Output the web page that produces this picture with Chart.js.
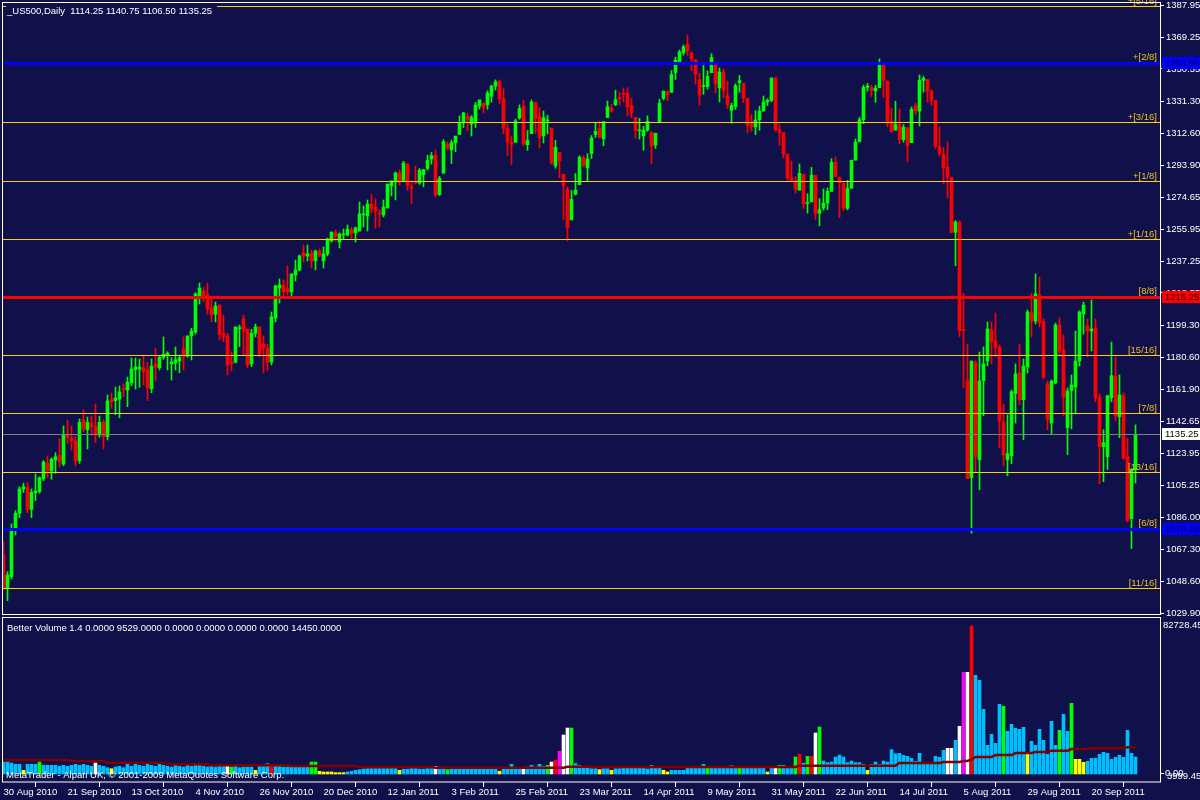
<!DOCTYPE html>
<html><head><meta charset="utf-8">
<script src="https://cdn.jsdelivr.net/npm/chart.js@4.4.1/dist/chart.umd.min.js"></script>
<style>
html,body{margin:0;padding:0;background:#10104a;width:1200px;height:800px;overflow:hidden;}
#wrap{position:relative;width:1200px;height:800px;}
canvas{position:absolute;left:0;}
#c1{top:0;} #c2{top:616px;}
</style></head><body>
<div id="wrap"><canvas id="c1" width="1200" height="617"></canvas><canvas id="c2" width="1200" height="184"></canvas></div>
<script>
const opens = [1064.1,1044.5,1051.3,1079.8,1088.7,1103.0,1104.0,1091.0,1100.8,1101.4,1109.1,1118.1,1113.6,1120.1,1122.9,1117.7,1135.2,1132.9,1131.3,1119.7,
1143.7,1137.9,1141.7,1140.1,1134.8,1142.3,1133.8,1155.6,1155.0,1156.0,1161.9,1161.3,1165.5,1173.3,1173.7,1174.3,1173.1,1162.1,1176.7,1174.5,
1180.6,1181.8,1176.7,1177.2,1178.4,1185.5,1181.4,1193.2,1195.5,1216.7,1219.5,1217.5,1209.8,1206.1,1211.4,1194.7,1193.2,1178.0,1177.8,1197.5,
1203.2,1197.3,1176.7,1194.7,1198.5,1188.4,1186.1,1177.8,1203.8,1221.4,1223.2,1220.9,1219.1,1229.1,1232.1,1242.1,1240.3,1242.1,1237.4,1243.2,
1237.4,1241.5,1249.1,1253.9,1248.6,1252.7,1252.7,1255.6,1253.9,1255.0,1264.5,1263.9,1270.9,1269.2,1265.6,1264.5,1268.6,1281.6,1283.9,1289.2,
1285.0,1294.5,1280.9,1283.6,1283.3,1288.2,1292.0,1297.5,1299.6,1276.5,1289.1,1306.1,1302.8,1307.0,1311.9,1318.8,1322.5,1318.1,1318.7,1328.7,
1330.4,1329.5,1334.4,1340.4,1343.0,1333.0,1315.4,1307.1,1307.3,1321.6,1328.6,1305.9,1312.4,1330.7,1322.7,1311.1,1319.9,1315.7,1293.4,1301.2,
1288.5,1279.5,1261.6,1276.7,1282.3,1298.3,1292.2,1300.6,1311.8,1315.5,1309.4,1321.9,1327.4,1329.5,1333.6,1335.9,1336.2,1329.0,1322.0,1314.0,
1311.1,1314.5,1313.4,1305.7,1319.1,1333.2,1337.1,1336.8,1348.4,1353.9,1360.1,1365.2,1359.8,1355.9,1344.2,1340.2,1340.2,1348.3,1354.5,1339.4,
1348.7,1334.8,1326.1,1328.5,1342.4,1342.0,1333.1,1317.7,1316.4,1320.6,1325.7,1331.1,1332.0,1345.2,1314.6,1312.9,1300.3,1286.3,1284.6,1279.1,
1288.3,1271.3,1272.2,1287.9,1265.5,1268.6,1271.5,1278.4,1295.5,1286.6,1283.0,1268.4,1280.2,1296.8,1307.6,1320.6,1339.7,1339.6,1337.6,1339.6,
1352.4,1343.3,1319.6,1314.5,1317.7,1308.9,1315.9,1307.1,1328.7,1325.7,1343.8,1344.3,1337.4,1331.9,1304.8,1300.1,1292.6,1286.6,1254.3,1260.2,
1197.0,1167.2,1109.7,1177.8,1120.2,1166.8,1178.4,1196.7,1190.2,1186.7,1142.5,1120.2,1122.6,1159.2,1171.4,1155.6,1174.9,1206.7,1202.0,1217.3,
1201.4,1164.9,1141.9,1165.5,1199.6,1184.9,1139.1,1160.9,1163.1,1178.4,1206.1,1199.0,1196.1,1197.9,1156.8,1127.9,1122.0,1156.8,1169.6,1145.6,
1157.8,1122.4,1085.5,1114.25];
const highs = [1071.9,1054.3,1082.4,1090.2,1104.3,1106.4,1106.9,1103.0,1111.8,1110.2,1119.7,1122.4,1121.4,1124.4,1132.5,1140.1,1143.7,1140.1,1134.2,1144.2,
1149.6,1145.4,1146.0,1153.1,1146.0,1143.7,1158.4,1159.6,1163.1,1163.7,1164.9,1169.0,1180.2,1180.2,1179.6,1182.0,1177.7,1179.6,1185.9,1181.4,
1192.6,1183.9,1180.4,1186.7,1182.0,1192.6,1193.2,1197.7,1218.7,1224.4,1221.9,1224.4,1215.0,1213.2,1211.4,1205.5,1194.7,1183.9,1198.5,1199.6,
1205.5,1197.3,1197.1,1200.2,1198.5,1193.2,1188.4,1207.3,1223.2,1226.8,1226.2,1234.4,1229.7,1237.9,1240.9,1246.8,1246.8,1243.8,1243.8,1244.4,
1245.6,1250.9,1254.4,1255.6,1253.9,1256.2,1258.6,1257.4,1257.4,1272.1,1269.8,1273.3,1276.8,1273.9,1267.4,1273.3,1282.7,1284.5,1289.8,1291.0,
1296.1,1294.6,1283.4,1293.3,1291.9,1291.3,1299.7,1301.3,1302.7,1287.2,1308.9,1307.6,1308.6,1311.0,1322.9,1324.9,1324.5,1323.0,1330.8,1332.1,
1330.4,1337.6,1341.0,1344.1,1344.0,1338.9,1317.9,1310.9,1320.9,1329.4,1332.1,1314.2,1332.3,1331.1,1327.7,1325.7,1323.2,1315.7,1308.4,1301.2,
1288.5,1280.9,1278.9,1288.9,1299.4,1299.4,1300.6,1311.3,1319.2,1319.7,1319.5,1331.7,1329.8,1337.9,1336.7,1339.4,1339.5,1333.2,1322.0,1321.4,
1316.8,1322.9,1313.4,1312.7,1332.7,1337.5,1337.6,1349.6,1357.5,1361.7,1364.6,1370.6,1360.8,1355.9,1348.0,1354.4,1349.4,1359.4,1354.5,1351.1,
1350.5,1343.3,1330.4,1341.8,1346.8,1342.0,1333.1,1323.7,1325.9,1328.5,1334.6,1333.0,1345.2,1345.2,1318.0,1312.9,1300.3,1296.2,1287.0,1294.5,
1288.3,1277.0,1292.5,1287.9,1274.1,1279.8,1280.4,1297.6,1298.6,1286.8,1283.9,1284.9,1296.8,1309.2,1322.0,1341.0,1342.0,1340.9,1340.9,1356.5,
1352.4,1343.3,1327.2,1331.5,1326.9,1317.7,1315.9,1328.1,1330.4,1347.0,1346.1,1344.3,1338.5,1331.9,1316.3,1304.3,1307.4,1286.6,1261.2,1261.0,
1218.3,1188.4,1178.4,1178.6,1183.7,1186.7,1201.4,1201.4,1206.7,1187.9,1153.1,1146.6,1161.3,1176.7,1188.4,1179.6,1208.5,1218.5,1229.7,1227.9,
1203.2,1166.6,1167.2,1200.8,1203.8,1193.8,1162.5,1170.2,1196.1,1207.9,1213.2,1203.2,1214.4,1203.2,1159.0,1137.9,1158.0,1189.6,1180.8,1170.2,
1159.6,1133.0,1114.8,1140.75];
const lows = [1043.8,1037.2,1050.0,1075.9,1086.1,1101.0,1089.0,1086.1,1096.1,1100.5,1107.9,1109.7,1108.7,1112.2,1116.1,1116.7,1129.9,1126.0,1116.7,1118.1,
1136.6,1126.6,1134.8,1130.3,1133.5,1126.6,1131.9,1150.6,1146.8,1145.0,1157.2,1151.5,1163.9,1161.9,1162.9,1164.3,1155.0,1159.7,1166.6,1173.1,
1179.4,1173.1,1167.2,1173.1,1171.5,1173.1,1180.6,1179.0,1194.3,1212.0,1213.4,1206.1,1201.6,1201.4,1190.8,1189.8,1170.2,1172.7,1177.2,1186.9,
1182.0,1174.5,1175.1,1192.6,1181.0,1171.5,1172.7,1176.1,1201.4,1212.6,1216.7,1217.3,1216.7,1225.6,1231.5,1236.8,1237.4,1233.2,1232.1,1239.7,
1233.2,1240.3,1248.5,1249.1,1245.0,1250.3,1252.1,1250.9,1248.5,1255.0,1257.4,1255.0,1265.6,1256.8,1257.4,1263.3,1268.6,1275.7,1273.3,1282.1,
1284.0,1278.9,1271.3,1282.8,1282.5,1281.1,1291.0,1294.4,1275.1,1276.0,1289.1,1302.6,1294.8,1301.7,1311.9,1316.0,1314.2,1311.0,1316.1,1326.9,
1324.6,1326.8,1331.0,1338.1,1330.0,1312.3,1299.6,1294.3,1307.3,1320.9,1305.4,1302.6,1312.4,1312.6,1303.9,1306.9,1312.3,1294.2,1292.0,1286.4,
1261.9,1249.1,1261.6,1276.2,1282.3,1292.7,1284.6,1297.7,1310.2,1310.2,1305.3,1321.9,1325.0,1328.9,1329.1,1331.1,1322.9,1321.8,1309.6,1309.2,
1302.6,1313.7,1294.7,1303.7,1319.1,1332.3,1331.7,1336.7,1344.3,1353.6,1358.7,1358.6,1349.5,1341.5,1329.2,1335.6,1338.6,1348.3,1336.4,1331.1,
1333.4,1327.3,1318.5,1326.6,1336.8,1330.7,1312.9,1313.9,1311.8,1314.4,1325.7,1329.0,1331.1,1313.7,1305.6,1297.9,1284.9,1284.7,1277.4,1279.1,
1268.3,1265.6,1272.2,1261.9,1258.1,1267.4,1267.6,1278.4,1286.8,1262.9,1267.2,1267.5,1280.2,1296.8,1307.6,1318.3,1337.5,1334.3,1330.9,1339.6,
1333.7,1316.4,1313.3,1314.5,1306.5,1307.4,1295.9,1307.1,1323.7,1316.9,1336.9,1331.1,1329.1,1303.6,1299.2,1282.9,1274.7,1254.0,1234.6,1192.7,
1162.9,1109.1,1076.9,1113.1,1102.6,1146.1,1175.5,1176.7,1181.0,1127.3,1116.7,1110.8,1117.9,1141.9,1152.7,1132.0,1171.4,1192.6,1200.2,1198.5,
1167.8,1137.9,1135.6,1164.9,1181.4,1146.1,1123.2,1138.5,1147.2,1175.5,1194.3,1180.9,1184.3,1154.4,1106.1,1107.3,1114.4,1154.4,1143.2,1133.2,
1120.5,1083.7,1067.8,1106.5];
const closes = [1044.5,1052.3,1078.4,1088.7,1103.0,1104.3,1091.0,1101.0,1101.8,1109.5,1118.9,1113.8,1120.5,1122.0,1119.1,1135.2,1133.2,1131.3,1119.7,1142.3,
1138.5,1142.3,1139.7,1135.4,1142.3,1133.8,1154.9,1154.4,1156.6,1160.2,1161.5,1165.9,1173.7,1174.9,1174.9,1172.1,1162.7,1175.3,1174.9,1180.6,
1182.4,1183.1,1177.8,1179.2,1180.4,1181.0,1193.2,1196.1,1217.9,1221.4,1217.1,1209.1,1205.5,1210.8,1193.9,1192.7,1176.1,1176.8,1198.5,1197.9,
1196.1,1176.1,1194.9,1198.5,1182.7,1186.1,1177.8,1204.4,1222.6,1223.2,1219.1,1219.1,1229.7,1232.1,1240.3,1240.3,1241.5,1237.4,1243.2,1240.9,
1241.5,1250.3,1254.4,1252.1,1253.3,1253.3,1256.2,1253.9,1256.8,1265.1,1265.1,1270.9,1268.0,1266.8,1265.1,1269.2,1282.7,1284.5,1289.2,1284.5,
1295.0,1281.9,1280.3,1283.4,1290.8,1291.2,1296.6,1299.5,1276.3,1286.1,1307.6,1304.0,1307.1,1310.9,1319.1,1324.6,1320.9,1321.9,1329.2,1332.3,
1328.0,1336.3,1340.4,1343.0,1333.0,1315.4,1307.4,1306.1,1319.9,1327.2,1306.3,1308.4,1331.0,1321.2,1310.1,1321.8,1320.0,1295.1,1304.3,1296.4,
1281.9,1256.9,1273.7,1279.2,1298.4,1293.8,1297.5,1309.7,1313.8,1310.2,1319.4,1328.3,1325.8,1332.4,1332.9,1335.5,1328.2,1324.5,1314.2,1314.4,
1314.5,1319.7,1305.1,1312.6,1330.4,1337.4,1335.3,1347.2,1355.7,1360.5,1363.6,1361.2,1356.6,1347.3,1335.1,1340.2,1346.3,1357.2,1342.1,1348.7,
1337.8,1329.5,1329.0,1340.7,1343.6,1333.3,1317.4,1316.3,1320.5,1325.7,1331.1,1332.0,1345.2,1314.6,1312.9,1300.2,1286.2,1284.9,1279.6,1289.0,
1271.0,1271.8,1287.9,1265.4,1267.6,1271.5,1278.4,1295.5,1287.1,1283.5,1268.5,1280.1,1296.7,1307.4,1320.6,1339.7,1340.5,1337.9,1339.2,1353.2,
1343.8,1319.5,1313.6,1317.7,1308.9,1316.1,1305.4,1326.7,1325.8,1343.8,1345.0,1337.4,1331.9,1304.9,1300.7,1292.3,1286.9,1254.1,1260.3,1196.3,
1196.3,1109.1,1178.4,1122.0,1166.6,1176.7,1197.3,1189.8,1186.3,1143.1,1123.0,1123.8,1160.3,1170.8,1155.6,1175.5,1207.3,1202.0,1217.9,1201.0,
1169.0,1144.2,1166.6,1199.6,1184.3,1157.4,1160.7,1164.3,1178.4,1207.3,1211.4,1196.1,1197.3,1156.8,1127.9,1130.3,1158.0,1169.8,1146.1,1158.4,
1121.1,1084.3,1114.8,1135.25];
const volumes = [6700,6700,6150,5400,5400,2070,5400,5400,5400,6700,4860,4860,4860,4860,4300,4860,4300,4860,5400,4860,
5400,4860,4300,6150,4860,4300,3520,2960,3900,4300,3520,5400,4300,5400,4860,4300,5400,4860,4300,5400,
4860,4300,3900,4860,4300,3900,4860,4300,5400,4860,4300,3900,4300,3900,4300,4300,4300,3900,4300,3520,
3900,3900,3900,2050,4300,4300,5770,4840,4300,4300,3900,3900,3900,3900,3900,3900,3900,6700,6700,1490,
1120,1120,1120,750,750,750,1120,1490,2050,2420,2800,2980,2980,2980,2980,2980,2980,2980,2980,2050,
2700,2700,2980,2980,2700,2700,2980,2980,4300,3900,3500,2420,2700,2700,2700,2980,2980,2980,2700,2700,
2980,2980,2700,2980,1490,3540,2980,5400,2980,2980,3000,3900,4840,3900,5400,4300,4860,6700,7640,12670,
21800,25700,25700,5770,4840,3900,3540,2980,2980,2420,2980,2980,2050,2980,2980,3170,3170,3170,3170,3170,
3170,2800,4840,3170,3170,2050,1120,2050,2050,2050,2050,3170,3170,3170,3170,5400,3170,3170,3170,3170,
3170,3170,4660,3170,3170,3170,3170,3170,3170,3170,3170,1120,3170,3170,4840,4840,3170,3170,9500,11000,
6000,9880,9880,22900,26300,7270,6330,6700,9500,10620,9500,6330,7270,6330,6330,5400,2050,5400,6700,5400,
7270,6700,13600,11360,11550,10430,9870,8760,7080,11550,5400,5400,5400,9870,9310,13230,14340,14340,18810,26640,
56820,56820,82728,55140,52350,36140,16020,22170,17140,38940,37820,23850,27760,25520,24960,26080,10990,18260,16020,24960,
18810,10990,29430,16020,24400,33350,23850,39500,8200,8200,6520,7080,8760,8760,10990,12110,11550,8200,9310,10430,
9310,24400,11550,9529];
const volTypes = ('bbbbbybbbg' + 'bbbbbbbbbb' + 'bbbwbbbybb' + 'bbbbbbbbbb' + 'bbbbbbbbbb' + 'bbbbbbwgbb' + 'bbbybbbrbb' + 'bbbbbbbggy' + 'yyyyyybbbb' + 'bbbbbbbbby' +
  'bbbbbbbbwb' + 'bgbbbbbbbb' + 'bbbbybbbbb' + 'wbbbbbgwrm' + 'wwgbbbb' +
  'bbybbybbbb' + 'bbbbbbbbyy' + 'bbbbbbbbbg' + 'bbbbbbbgbb' + 'bbbbybwgbb' + 'bgrbgrwgbb' + 'bbbbbbbbby' + 'bbbbbbb' +
  'bbbbbbbbbb' + 'bbwwbwmwrb' + 'bbbbbbgbbb' + 'bbybbbbbbb' + 'gbbgyyybbb' + 'bbbbbbbbbb').split('');
const volMA = [7830,7830,7830,7830,7830,7830,7830,7830,7830,7830, 7830,7830,7830,7830,7830,7830,7830,7270,7270,7270,
7270,7270,7270,7270,7270,7270,6330,6330,6330,6330, 6330,6330,6330,6330,6330,6330,6330,6330,6330,6330,
6330,5400,5400,5400,5400,5400,5400,5400,5400,5400, 5400,5400,4840,4840,4840,4840,4840,4840,4840,4840,
4840,4840,4840,4840,4840,4840,4840,4840,4840,4840, 4840,4840,4470,4470,4470,4470,4470,4470,4470,4470,
4470,4470,4470,4470,4470,4470,4470,4470,4470,3910, 3910,3910,3910,3910,3910,3910,3910,3910,3910,3910,
3910,3910,3910,3910,3910,3910,3910,3910,3540,3540, 3540,3540,3540,3540,3540,3540,3540,3540,3540,3540,
3540,3540,3540,3540,3540,3540,3540,3540,3540,3540, 3540,3540,3540,3540,3540,3540,3540,3540,3540,3540,
3540,4100,4100,4100,4100,4100,4100,3910,3910,3910, 3910,3910,3910,3910,3910,3910,3910,3910,3910,3910,
3910,3910,3910,3910,3910,3910,3910,3910,3910,3910, 3910,3910,3910,3910,3910,3910,3910,3910,3910,3910,
3910,3910,3910,3910,3910,3910,3910,3910,3910,3910, 3910,3910,3910,3910,3910,3910,3910,3910,3910,4660,
4660,4660,4660,4660,4660,4660,4660,4660,4660,4660, 4660,4660,4660,4660,4660,4660,4660,4660,4660,4660,
4660,4660,4660,4660,6150,6150,6150,6150,6150,6150, 6150,6150,6150,6150,6150,6700,6700,6700,6700,6700,
7270,7270,8200,9500,9500,9500,9500,9500,10600,10600, 10600,10600,10600,11700,11700,11700,11700,11700,12300,12300,
12300,12300,13040,13040,13040,13040,13040,13970,13970,13970, 13970,13970,14450,14450,14450,14450,14450,14450,14450,14450,
14450,15000,15000,15000];
const tickDates = ['30 Aug 2010','21 Sep 2010','13 Oct 2010','4 Nov 2010','26 Nov 2010','20 Dec 2010','12 Jan 2011','3 Feb 2011','25 Feb 2011','23 Mar 2011','14 Apr 2011','9 May 2011','31 May 2011','22 Jun 2011','14 Jul 2011','5 Aug 2011','29 Aug 2011','20 Sep 2011'];
const priceTicks = [1387.95,1369.25,1350.55,1331.30,1312.60,1293.90,1274.65,1255.95,1237.25,1218.55,1199.30,1180.60,1161.90,1142.65,1123.95,1105.25,1086.00,1067.30,1048.60,1029.90];
const levelValues = [1387.9,1353.86,1319.0,1284.6,1250.5,1216.25,1181.9,1147.6,1113.3,1079.26,1044.6];
const levelNames = ['+[5/16]','+[2/8]','+[3/16]','+[1/8]','+[1/16]','[8/8]','[15/16]','[7/8]','[13/16]','[6/8]','[11/16]'];
const levelKinds = ['y','b','y','y','y','r','y','y','y','b','y'];
const lastPrice = 1135.25;
const titleText = '_US500,Daily  1114.25 1140.75 1106.50 1135.25';
const volTitle = 'Better Volume 1.4 0.0000 9529.0000 0.0000 0.0000 0.0000 0.0000 14450.0000';
const volTop = 82728.45, volMinLabel = 3999.45;

const BG = '#10104a';
const FONT = '9.5px "Liberation Sans", Arial, sans-serif';
const XMIN = -0.125, XMAX = 289.125;
Chart.defaults.font.family = '"Liberation Sans", Arial, sans-serif';
Chart.defaults.font.size = 9.5;
Chart.defaults.color = '#ffffff';

const N = closes.length;
const idx = closes.map((_, i) => i);
const candleCol = idx.map(i => closes[i] >= opens[i] ? '#00ff00' : '#ff0000');
const kindCol = {y:'#ffd000', b:'#0000ff', r:'#ff0000'};
const levelWidth = {y:1, b:3, r:3};
const volCol = {b:'#00bfff', y:'#ffff00', g:'#00ff00', w:'#ffffff', m:'#ff00ff', r:'#ff0000'};

const mainOverlay = {
  id: 'mainOverlay',
  afterDatasetsDraw(chart) {
    const {ctx, chartArea: a, scales: {y}} = chart;
    ctx.save();
    let py = Math.round(y.getPixelForValue(lastPrice));
    ctx.fillStyle = '#808080';
    ctx.fillRect(a.left, py, a.right - a.left, 1);
    levelValues.forEach((v, k) => {
      const w = levelWidth[levelKinds[k]];
      const p = Math.round(y.getPixelForValue(v));
      ctx.fillStyle = kindCol[levelKinds[k]];
      ctx.fillRect(a.left, p - Math.floor(w / 2), a.right - a.left, w);
    });
    ctx.font = FONT;
    ctx.textAlign = 'right';
    ctx.textBaseline = 'alphabetic';
    levelValues.forEach((v, k) => {
      const p = Math.round(y.getPixelForValue(v));
      ctx.fillStyle = '#f0c020';
      ctx.fillText(levelNames[k], a.right - 3, p - 2 - (levelWidth[levelKinds[k]] > 1 ? 1 : 0));
    });
    ctx.restore();
  },
  afterDraw(chart) {
    const {ctx, chartArea: a, scales: {y}} = chart;
    ctx.save();
    ctx.font = FONT;
    ctx.fillStyle = BG;
    const tw = ctx.measureText(titleText).width;
    ctx.fillRect(a.left + 3, a.top, tw + 6, 14);
    ctx.fillStyle = '#ffffff';
    ctx.textAlign = 'left';
    ctx.textBaseline = 'middle';
    ctx.fillText(titleText, a.left + 4, 11);
    const tags = [[1353.86, '#0000ff', '#000040'], [1216.25, '#ff0000', '#200000'], [lastPrice, '#ffffff', '#000000'], [1079.26, '#0000ff', '#000040']];
    tags.forEach(([v, bg, fg]) => {
      const p = Math.round(y.getPixelForValue(v));
      ctx.fillStyle = bg;
      ctx.fillRect(a.right + 2, p - 6, 40, 12);
      ctx.fillStyle = fg;
      ctx.fillText(v.toFixed(2), a.right + 5, p + 0.5);
    });
    ctx.strokeStyle = '#ffffff';
    ctx.lineWidth = 1;
    ctx.strokeRect(a.left - 0.5, a.top - 0.5, a.right - a.left + 1, a.bottom - a.top);
    ctx.restore();
  }
};

new Chart(document.getElementById('c1'), {
  type: 'bar',
  data: {
    datasets: [
      {label: 'body', data: idx.map(i => ({x: i, y: [opens[i], closes[i]]})), backgroundColor: candleCol,
       barThickness: 3, grouped: false, minBarLength: 1, borderWidth: 0, order: 0},
      {label: 'wick', data: idx.map(i => ({x: i, y: [lows[i], highs[i]]})), backgroundColor: candleCol,
       barThickness: 1, grouped: false, borderWidth: 0, order: 1}
    ]
  },
  options: {
    responsive: false, animation: false, events: [],
    layout: {padding: {left: 3, top: 3, bottom: 2, right: 0}},
    plugins: {legend: {display: false}, tooltip: {enabled: false}},
    scales: {
      x: {type: 'linear', min: XMIN, max: XMAX, offset: false, display: false},
      y: {position: 'right', min: 1028.74, max: 1389.39,
          afterFit(s) { s.width = 40; s.paddingTop = 0; s.paddingBottom = 0; },
          afterBuildTicks(s) { s.ticks = priceTicks.map(v => ({value: v})); },
          ticks: {color: '#ffffff', padding: 2, font: {size: 9.5}, callback: v => Number(v).toFixed(2)},
          grid: {drawOnChartArea: false, color: '#ffffff', tickLength: 4},
          border: {display: false}}
    }
  },
  plugins: [mainOverlay]
});

const volOverlay = {
  id: 'volOverlay',
  afterDraw(chart) {
    const {ctx, chartArea: a, scales: {y}} = chart;
    ctx.save();
    ctx.strokeStyle = '#ffffff';
    ctx.lineWidth = 1;
    ctx.strokeRect(a.left - 0.5, a.top - 1.5, a.right - a.left + 1, a.bottom - a.top + 1.5);
    ctx.font = FONT;
    ctx.fillStyle = '#ffffff';
    ctx.textAlign = 'left';
    ctx.textBaseline = 'middle';
    ctx.fillText(volTitle, a.left + 4, a.top + 9);
    ctx.fillText('MetaTrader - Alpari UK, \u00a9 2001-2009 MetaQuotes Software Corp.', a.left + 3, a.bottom - 7);
    ctx.fillText(volTop.toFixed(2), a.right + 3, Math.round(y.getPixelForValue(volTop)) - 1);
    const p0 = Math.round(y.getPixelForValue(0));
    ctx.fillRect(a.right + 1, p0 - 1, 3, 1);
    ctx.fillText('0.00', a.right + 5, p0 - 1);
    ctx.fillText(volMinLabel.toFixed(2), a.right + 7, p0 + 2);
    ctx.restore();
  }
};

new Chart(document.getElementById('c2'), {
  type: 'bar',
  data: {
    datasets: [
      {type: 'line', label: 'ma', data: idx.map(i => ({x: i, y: volMA[i]})), borderColor: '#800000', borderWidth: 2.5,
       pointRadius: 0, tension: 0, order: 0},
      {label: 'vol', data: idx.map(i => ({x: i, y: volumes[i]})), backgroundColor: idx.map(i => volCol[volTypes[i]]),
       barThickness: 3, borderWidth: 0, order: 1}
    ]
  },
  options: {
    responsive: false, animation: false, events: [],
    layout: {padding: {left: 3, top: 3, bottom: 0, right: 40}},
    plugins: {legend: {display: false}, tooltip: {enabled: false}},
    scales: {
      x: {type: 'linear', min: XMIN, max: XMAX, offset: false,
          afterFit(s) { s.height = 18; s.paddingLeft = 0; s.paddingRight = 0; },
          afterBuildTicks(s) { s.ticks = tickDates.map((d, k) => ({value: k * 16})); },
          ticks: {color: '#ffffff', align: 'start', maxRotation: 0, autoSkip: false, padding: 0,
                  font: {size: 9.5}, callback: (v, k) => tickDates[k]},
          grid: {drawOnChartArea: false, color: '#ffffff', tickLength: 5},
          border: {display: false}},
      y: {display: false, min: -4472, max: 86641}
    }
  },
  plugins: [volOverlay]
});
</script>
</body></html>
